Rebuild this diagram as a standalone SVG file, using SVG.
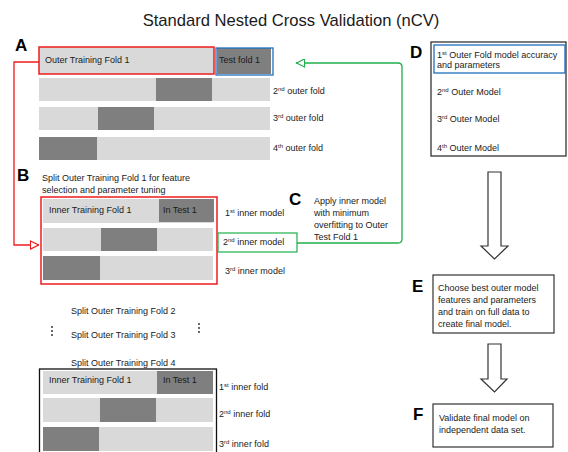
<svg xmlns="http://www.w3.org/2000/svg" width="568" height="452" viewBox="0 0 568 452">
<style>
text{font-family:"Liberation Sans",Arial,sans-serif;fill:#1a1a1a}
.t{font-size:9px}
.sup{font-size:6px}
.big{font-size:17px;font-weight:bold;fill:#000}
.lt{fill:#d9d9d9}
.dk{fill:#7f7f7f}
.blk{fill:#fff;stroke:#333;stroke-width:1.2}
</style>
<defs>
<marker id="arRed" viewBox="0 0 10 10" refX="10" refY="5" markerWidth="9" markerHeight="10" markerUnits="userSpaceOnUse" orient="auto"><path d="M0.5,0.5 L9.5,5 L0.5,9.5 z" fill="#fff" stroke="#ee1c1c" stroke-width="1.2"/></marker>
<marker id="arGreen" viewBox="0 0 10 10" refX="10" refY="5" markerWidth="11" markerHeight="9" markerUnits="userSpaceOnUse" orient="auto"><path d="M0.5,0.5 L9.5,5 L0.5,9.5 z" fill="#fff" stroke="#1fb04b" stroke-width="1.2"/></marker>
</defs>
<rect width="568" height="452" fill="#fff"/>
<text x="291" y="26" text-anchor="middle" style="font-size:16.6px" fill="#1a1a1a">Standard Nested Cross Validation (nCV)</text>

<g id="nodeA">
<text class="big" x="15" y="51">A</text>
<rect class="lt" x="39" y="47" width="175" height="27"/>
<rect x="39" y="47" width="175" height="27" fill="none" stroke="#ee1c1c" stroke-width="1.5"/>
<text class="t" x="45" y="63">Outer Training Fold 1</text>
<rect class="dk" x="217" y="48" width="54" height="26"/>
<rect x="216" y="48" width="57" height="27" fill="none" stroke="#1f6fc0" stroke-width="1.3"/>
<text class="t" x="219" y="63">Test fold 1</text>
<rect class="lt" x="39" y="78" width="231" height="23"/>
<rect class="dk" x="156" y="78" width="56" height="23"/>
<rect class="lt" x="39" y="107" width="231" height="23"/>
<rect class="dk" x="98" y="107" width="56" height="23"/>
<rect class="lt" x="39" y="137" width="231" height="23"/>
<rect class="dk" x="39" y="137" width="58" height="23"/>
<text class="t" x="273" y="94">2<tspan class="sup" dy="-3">nd</tspan><tspan dy="3"> outer fold</tspan></text>
<text class="t" x="273" y="121">3<tspan class="sup" dy="-3">rd</tspan><tspan dy="3">  outer fold</tspan></text>
<text class="t" x="273" y="151">4<tspan class="sup" dy="-3">th</tspan><tspan dy="3"> outer fold</tspan></text>
</g>

<g id="nodeB">
<text class="big" x="17" y="181">B</text>
<text class="t" x="42" y="181">Split Outer Training Fold 1 for feature</text>
<text class="t" x="42" y="193">selection and parameter tuning</text>
<rect class="lt" x="43" y="199" width="170" height="24"/>
<rect class="dk" x="159" y="199" width="55" height="23"/>
<rect class="lt" x="43" y="228" width="170" height="23"/>
<rect class="dk" x="101" y="228" width="56" height="23"/>
<rect class="lt" x="43" y="256" width="170" height="24"/>
<rect class="dk" x="43" y="256" width="57" height="24"/>
<rect x="41" y="197" width="176" height="87" fill="none" stroke="#ee1c1c" stroke-width="1.5"/>
<text class="t" x="49" y="213">Inner Training Fold 1</text>
<text class="t" x="163" y="213">In Test 1</text>
<text class="t" x="225" y="216">1<tspan class="sup" dy="-3">st</tspan><tspan dy="3"> inner model</tspan></text>
<rect x="218" y="233" width="79" height="19" fill="#fff" stroke="#1fb04b" stroke-width="1.2"/>
<text class="t" x="223" y="245">2<tspan class="sup" dy="-3">nd</tspan><tspan dy="3"> inner model</tspan></text>
<text class="t" x="225" y="274">3<tspan class="sup" dy="-3">rd</tspan><tspan dy="3"> inner model</tspan></text>
</g>

<g id="nodeC">
<text class="big" x="289" y="205">C</text>
<text class="t" x="314" y="204">Apply inner model</text>
<text class="t" x="314" y="216">with minimum</text>
<text class="t" x="314" y="228">overfitting  to Outer</text>
<text class="t" x="314" y="240">Test Fold 1</text>
</g>

<g id="nodeOthers">
<text class="t" x="71" y="314">Split Outer Training Fold 2</text>
<text class="t" x="71" y="338">Split Outer Training Fold 3</text>
<text class="t" x="71" y="366">Split Outer Training Fold 4</text>
<circle cx="52" cy="327" r="0.9" fill="#222"/><circle cx="52" cy="331" r="0.9" fill="#222"/><circle cx="52" cy="335" r="0.9" fill="#222"/>
<circle cx="199" cy="324" r="0.9" fill="#222"/><circle cx="199" cy="328" r="0.9" fill="#222"/><circle cx="199" cy="332" r="0.9" fill="#222"/>
</g>

<g id="nodeBottom">
<rect class="lt" x="43" y="371" width="170" height="23"/>
<rect class="dk" x="157" y="371" width="56" height="23"/>
<rect class="lt" x="43" y="398" width="170" height="24"/>
<rect class="dk" x="100" y="398" width="56" height="24"/>
<rect class="lt" x="43" y="427" width="170" height="24"/>
<rect class="dk" x="43" y="427" width="56" height="24"/>
<rect x="39.5" y="369" width="177" height="84" fill="none" stroke="#111" stroke-width="1.3"/>
<text class="t" x="49" y="383">Inner Training Fold 1</text>
<text class="t" x="163" y="383">In Test 1</text>
<text class="t" x="219" y="390">1<tspan class="sup" dy="-3">st</tspan><tspan dy="3"> inner fold</tspan></text>
<text class="t" x="219" y="417">2<tspan class="sup" dy="-3">nd</tspan><tspan dy="3"> inner fold</tspan></text>
<text class="t" x="219" y="447">3<tspan class="sup" dy="-3">rd</tspan><tspan dy="3"> inner fold</tspan></text>
</g>

<g id="nodeD">
<text class="big" x="410" y="58">D</text>
<rect x="431" y="42" width="135" height="114" fill="#fff" stroke="#222" stroke-width="1.2"/>
<rect x="434" y="45" width="131" height="28" fill="none" stroke="#1f6fc0" stroke-width="1.3"/>
<text class="t" x="437" y="58">1<tspan class="sup" dy="-3">st</tspan><tspan dy="3"> Outer Fold model accuracy</tspan></text>
<text class="t" x="437" y="68">and parameters</text>
<text class="t" x="437" y="95">2<tspan class="sup" dy="-3">nd</tspan><tspan dy="3"> Outer Model</tspan></text>
<text class="t" x="437" y="122">3<tspan class="sup" dy="-3">rd</tspan><tspan dy="3">  Outer Model</tspan></text>
<text class="t" x="437" y="151">4<tspan class="sup" dy="-3">th</tspan><tspan dy="3"> Outer Model</tspan></text>
</g>

<g id="nodeE">
<text class="big" x="412" y="292">E</text>
<rect x="433" y="275" width="121" height="58" fill="#fff" stroke="#333" stroke-width="1.2"/>
<text class="t" x="438" y="291">Choose best outer model</text>
<text class="t" x="438" y="303">features and parameters</text>
<text class="t" x="438" y="315">and train on full data to</text>
<text class="t" x="438" y="327">create final model.</text>
</g>

<g id="nodeF">
<text class="big" x="413" y="420">F</text>
<rect x="433" y="404" width="120" height="43" fill="#fff" stroke="#333" stroke-width="1.2"/>
<text class="t" x="439" y="421">Validate final model on</text>
<text class="t" x="439" y="433">independent data set.</text>
</g>

<g id="connectors" fill="none">
<path d="M39,62 H14 V245 H39" stroke="#ee1c1c" stroke-width="1.3" marker-end="url(#arRed)"/>
<path d="M297,243 H398 Q402,243 402,239 V67 Q402,63 398,63 H296" stroke="#1fb04b" stroke-width="1.3" marker-end="url(#arGreen)"/>
<polygon class="blk" points="488,172 501,172 501,246 508,246 494.5,259 481,246 488,246"/>
<polygon class="blk" points="488,344 501,344 501,379 507,379 494.5,392 481,379 488,379"/>
</g>
</svg>
